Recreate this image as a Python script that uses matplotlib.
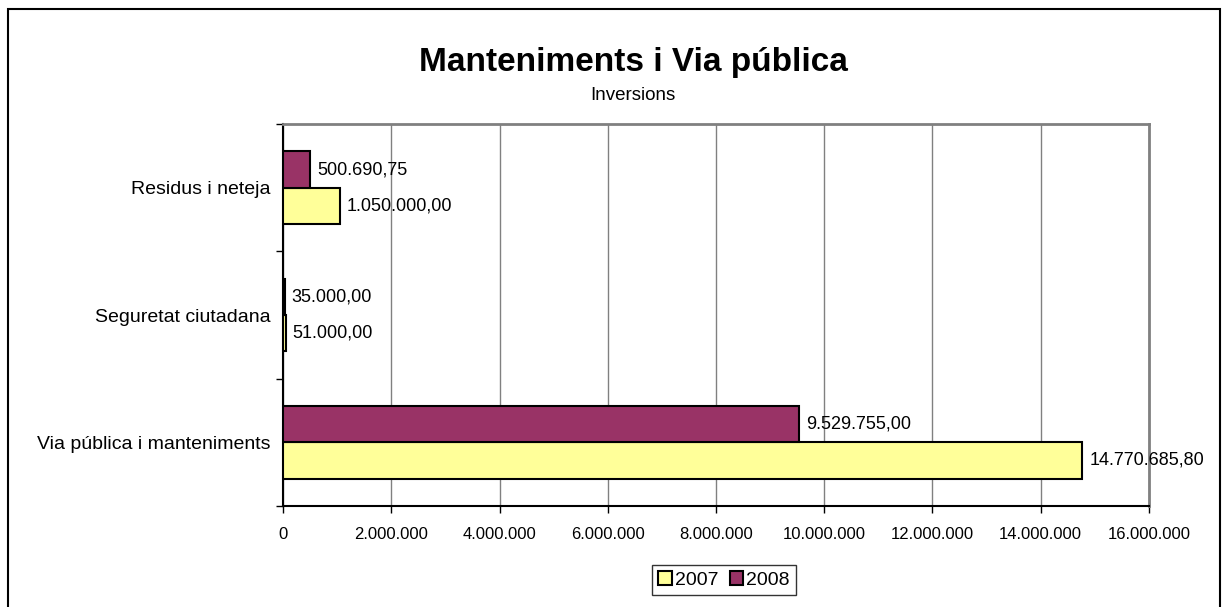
import matplotlib.pyplot as plt
from matplotlib.patches import Rectangle
from matplotlib.ticker import FuncFormatter, MultipleLocator

plt.rcParams['font.family'] = ['Liberation Sans', 'DejaVu Sans']

categories = ['Via pública i manteniments', 'Seguretat ciutadana', 'Residus i neteja']
vals_2007 = [14770685.80, 51000.00, 1050000.00]
vals_2008 = [9529755.00, 35000.00, 500690.75]
years = ['2007', '2008']
colors = ['#FFFF99', '#993366']


def fmt_eu(v, dec=2):
    s = f'{v:,.{dec}f}'
    return s.replace(',', 'X').replace('.', ',').replace('X', '.')


fig = plt.figure(figsize=(12.28, 6.07), dpi=100)
ax = fig.add_axes([283 / 1228, 1 - 506 / 607, (1149 - 283) / 1228, (506 - 124) / 607])

# outer frame of the chart
fig.patches.append(Rectangle((8 / 1228, -0.05), (1220 - 8) / 1228, 1.05 - 9 / 607,
                             transform=fig.transFigure, fill=False,
                             edgecolor='black', linewidth=1.5))

h = 0.285
pos = list(range(len(categories)))
b07 = ax.barh([p - h / 2 for p in pos], vals_2007, height=h, color=colors[0],
              edgecolor='black', linewidth=1.5, label=years[0], zorder=3)
b08 = ax.barh([p + h / 2 for p in pos], vals_2008, height=h, color=colors[1],
              edgecolor='black', linewidth=1.5, label=years[1], zorder=3)

for bars, vals in ((b07, vals_2007), (b08, vals_2008)):
    for b, v in zip(bars, vals):
        ax.annotate(fmt_eu(v), (v, b.get_y() + b.get_height() / 2),
                    xytext=(5, 0), textcoords='offset points',
                    va='center', ha='left', fontsize=13, zorder=4)

ax.set_xlim(0, 16000000)
ax.set_ylim(-0.5, 2.5)
ax.xaxis.set_major_locator(MultipleLocator(2000000))
ax.xaxis.set_major_formatter(FuncFormatter(lambda x, p: fmt_eu(x, 0)))
ax.grid(axis='x', color='#808080', linewidth=1, zorder=0)

ax.set_yticks(pos)
ax.set_yticklabels(categories, fontsize=14)
ax.set_yticks([-0.5, 0.5, 1.5, 2.5], minor=True)
ax.tick_params(axis='y', which='major', length=0, pad=9)
ax.tick_params(axis='y', which='minor', length=5, width=1, color='black')
ax.tick_params(axis='x', length=5, width=1, labelsize=12, pad=10)

ax.spines['left'].set_color('black')
ax.spines['bottom'].set_color('black')
ax.spines['left'].set_linewidth(1.5)
ax.spines['bottom'].set_linewidth(1.5)
ax.spines['top'].set_color('#808080')
ax.spines['right'].set_color('#808080')
ax.spines['top'].set_linewidth(2)
ax.spines['right'].set_linewidth(2)

fig.text(633 / 1228, 1 - 62 / 607, 'Manteniments i Via pública', ha='center', va='center',
         fontsize=24, fontweight='bold')
fig.text(633 / 1228, 1 - 95 / 607, 'Inversions', ha='center', va='center', fontsize=13.5)

fig.legend(handles=[b07, b08], labels=years, loc='center',
           bbox_to_anchor=(724 / 1228, 1 - 580 / 607), ncol=2, fontsize=14,
           frameon=True, fancybox=False, edgecolor='black', handlelength=0.7,
           handleheight=0.7, handletextpad=0.15, columnspacing=0.6,
           borderpad=0.3, borderaxespad=0)

fig.savefig('out.png', dpi=100)
